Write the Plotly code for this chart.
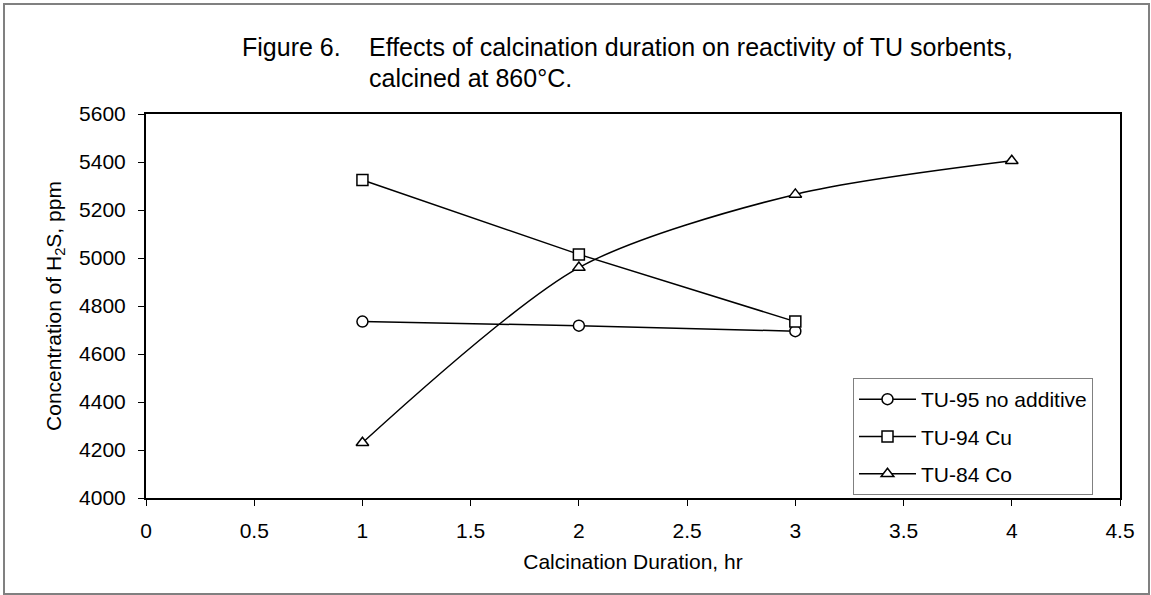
import plotly.graph_objects as go

# ---- data ----
duration_95 = [1, 2, 3]
h2s_95 = [4735, 4718, 4695]
duration_94 = [1, 2, 3]
h2s_94 = [5325, 5015, 4735]
duration_84 = [1, 2, 3, 4]
h2s_84 = [4230, 4960, 5265, 5405]

x_ticks = [0, 0.5, 1, 1.5, 2, 2.5, 3, 3.5, 4, 4.5]
x_tick_text = ["0", "0.5", "1", "1.5", "2", "2.5", "3", "3.5", "4", "4.5"]
y_ticks = [4000, 4200, 4400, 4600, 4800, 5000, 5200, 5400, 5600]

FONT = "Liberation Sans, Arial, sans-serif"
FS = 21
TFS = 25

# plot area in pixels
L, R, T, B = 146, 1120, 114, 498
W, H = 1151, 595
PW, PH = R - L, B - T


def px(xp):
    return (xp - L) / PW


def py(yp):
    return (B - yp) / PH


fig = go.Figure()
marker_common = dict(color="white", size=11, line=dict(color="black", width=1.5))

fig.add_trace(go.Scatter(
    x=duration_95, y=h2s_95, mode="lines+markers", name="TU-95 no additive",
    legendgroup="a",
    line=dict(color="black", width=1.5),
    marker=dict(symbol="circle", **marker_common),
))
fig.add_trace(go.Scatter(
    x=duration_94, y=h2s_94, mode="lines+markers", name="TU-94 Cu",
    legendgroup="b",
    line=dict(color="black", width=1.5),
    marker=dict(symbol="square", **marker_common),
))
fig.add_trace(go.Scatter(
    x=duration_84, y=h2s_84, mode="lines+markers", name="TU-84 Co",
    legendgroup="c",
    line=dict(color="black", width=1.5, shape="spline", smoothing=0.8),
    marker=dict(symbol="triangle-up", **marker_common),
))

axis_common = dict(
    showgrid=False, zeroline=False, showline=True, linecolor="black", linewidth=2,
    mirror=True, ticks="outside", ticklen=6, tickwidth=1, tickcolor="black",
    tickfont=dict(family=FONT, size=FS, color="black"),
)

fig.update_xaxes(
    range=[0, 4.5], tickvals=x_ticks, ticktext=x_tick_text, ticklabelstandoff=7,
    title=dict(text="Calcination Duration, hr", font=dict(family=FONT, size=FS, color="black"), standoff=13),
    **axis_common,
)
fig.update_yaxes(
    range=[4000, 5600], tickvals=y_ticks, ticklabelstandoff=8,
    title=dict(text="Concentration of H<sub>2</sub>S, ppm", font=dict(family=FONT, size=FS, color="black"), standoff=12),
    **axis_common,
)

fig.add_annotation(
    xref="paper", yref="paper", x=px(240), y=py(47), xanchor="left", yanchor="middle",
    text="Figure 6.", showarrow=False, font=dict(family=FONT, size=TFS, color="black"),
)
fig.add_annotation(
    xref="paper", yref="paper", x=px(367), y=py(47), xanchor="left", yanchor="middle",
    text="Effects of calcination duration on reactivity of TU sorbents,", showarrow=False,
    font=dict(family=FONT, size=TFS, color="black"),
)
fig.add_annotation(
    xref="paper", yref="paper", x=px(367), y=py(78), xanchor="left", yanchor="middle",
    text="calcined at 860\u00b0C.", showarrow=False, font=dict(family=FONT, size=TFS, color="black"),
)

# outer frame
fig.add_shape(
    type="rect", xref="paper", yref="paper",
    x0=px(4), x1=px(1149), y0=py(594), y1=py(4),
    line=dict(color="#808080", width=2), fillcolor="rgba(0,0,0,0)", layer="below",
)

fig.update_layout(
    width=W, height=H,
    margin=dict(l=L, r=W - R, t=T, b=H - B),
    paper_bgcolor="white", plot_bgcolor="white",
    font=dict(family=FONT, color="black"),
    showlegend=True,
    legend=dict(
        x=px(853), y=py(378), xanchor="left", yanchor="top",
        bordercolor="#808080", borderwidth=1, bgcolor="white",
        font=dict(family=FONT, size=FS, color="black"),
        tracegroupgap=7, itemwidth=57,
    ),
)

fig.write_html("out.html")
